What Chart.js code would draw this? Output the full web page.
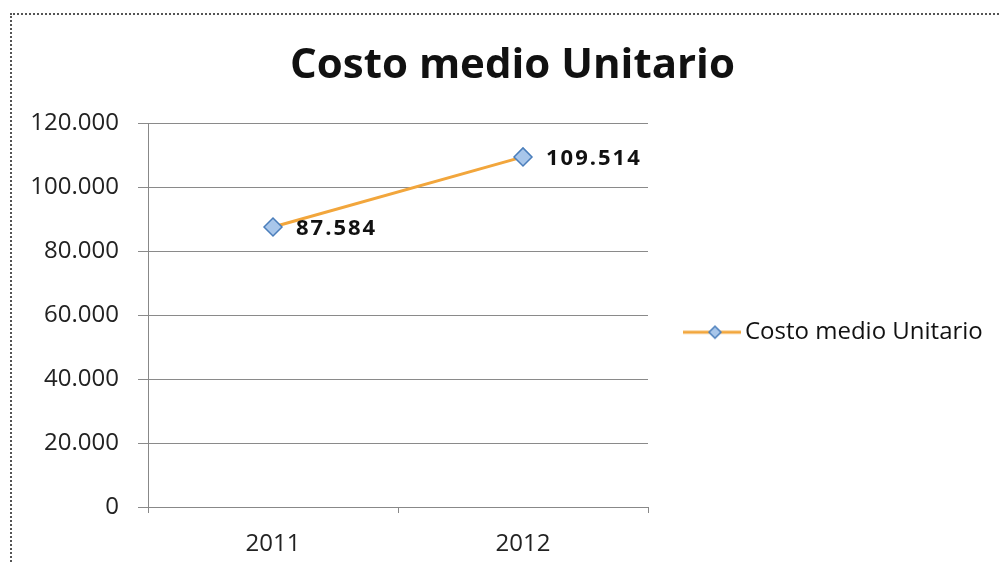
<!DOCTYPE html>
<html>
<head>
<meta charset="utf-8">
<script src="https://cdn.jsdelivr.net/npm/chart.js@4.4.0/dist/chart.umd.min.js"></script>
<style>
  body { margin: 0; background: #fff; }
  #wrap { position: relative; width: 1000px; height: 563px; overflow: hidden; }
  #frame { position: absolute; left: 10px; top: 13px; width: 1000px; height: 600px;
           border: 2px dotted #555; box-sizing: border-box; }
  canvas { position: absolute; left: 0; top: 0; }
</style>
</head>
<body>
<div id="wrap">
  <div id="frame"></div>
  <canvas id="costo" width="1000" height="563"></canvas>
</div>
<script>
// datos
const anios = ['2011', '2012'];
const costoMedio = [87584, 109514];
const serieNombre = 'Costo medio Unitario';

const naranja = '#f2a63c';
const azulBorde = '#4a7ebb';
const azulRelleno = '#a8c6ea';

function puntos(v) {
  return String(v).replace(/\B(?=(\d{3})+(?!\d))/g, '.');
}

// icono de la leyenda: linea + rombo
const icono = document.createElement('canvas');
icono.width = 58;
icono.height = 16;
const ic = icono.getContext('2d');
ic.strokeStyle = naranja;
ic.lineWidth = 3;
ic.beginPath(); ic.moveTo(0, 8); ic.lineTo(58, 8); ic.stroke();
ic.fillStyle = azulRelleno;
ic.strokeStyle = azulBorde;
ic.lineWidth = 1.5;
ic.beginPath(); ic.moveTo(32, 2); ic.lineTo(38, 8); ic.lineTo(32, 14); ic.lineTo(26, 8); ic.closePath();
ic.fill(); ic.stroke();

// etiquetas de datos y leyenda a la derecha
const extras = {
  id: 'extras',
  afterDatasetsDraw(chart) {
    const ctx = chart.ctx;
    const meta = chart.getDatasetMeta(0);
    ctx.save();
    ctx.font = 'bold 22px "Open Sans"';
    ctx.letterSpacing = '2px';
    ctx.fillStyle = '#111';
    ctx.textBaseline = 'middle';
    ctx.textAlign = 'left';
    meta.data.forEach(function (p, i) {
      ctx.fillText(puntos(costoMedio[i]), p.x + 23, p.y + 2);
    });
    ctx.restore();

    const area = chart.chartArea;
    const lx = area.right + 35;
    const ly = (area.top + area.bottom) / 2 + 17;
    ctx.save();
    ctx.drawImage(icono, lx, ly - 8);
    ctx.font = '24px "Open Sans"';
    ctx.fillStyle = '#111';
    ctx.textBaseline = 'middle';
    ctx.textAlign = 'left';
    ctx.fillText(serieNombre, lx + 62, ly);
    ctx.restore();
  }
};

var ctx = document.getElementById('costo');
var myChart = new Chart(ctx, {
  type: 'line',
  data: {
    labels: anios,
    datasets: [
      {
        label: serieNombre,
        data: costoMedio,
        borderColor: naranja,
        borderWidth: 3,
        backgroundColor: azulRelleno,
        pointStyle: 'rectRot',
        pointRadius: 9,
        pointBackgroundColor: azulRelleno,
        pointBorderColor: azulBorde,
        pointBorderWidth: 1.5,
        tension: 0
      }
    ]
  },
  options: {
    responsive: false,
    animation: false,
    layout: {
      padding: { left: 25, right: 0, top: 20, bottom: -12 }
    },
    plugins: {
      title: {
        display: true,
        text: 'Costo medio Unitario',
        color: '#111',
        font: { family: 'Open Sans', size: 42, weight: 'bold' },
        padding: { top: 21, bottom: 32 }
      },
      legend: { display: false },
      tooltip: { enabled: false }
    },
    scales: {
      x: {
        offset: true,
        grid: { drawOnChartArea: false, drawTicks: true, tickLength: 6, color: '#888', offset: true },
        border: { color: '#888', width: 1 },
        ticks: { color: '#222', padding: 19, font: { family: 'Open Sans', size: 24, lineHeight: 1 } }
      },
      y: {
        min: 0,
        max: 120000,
        afterFit: function (scale) { scale.width = 123; },
        grid: { color: '#8a8a8a', lineWidth: 1, tickLength: 10 },
        border: { color: '#888', width: 1 },
        ticks: {
          stepSize: 20000,
          color: '#222',
          padding: 19,
          font: { family: 'Open Sans', size: 24 },
          callback: function (v) { return puntos(v); }
        }
      },
      // espacio reservado para la leyenda
      hueco: {
        type: 'linear',
        position: 'right',
        display: true,
        afterFit: function (scale) { scale.width = 352; },
        grid: { display: false },
        border: { display: false },
        ticks: { display: false }
      }
    }
  },
  plugins: [extras]
});
</script>
</body>
</html>
